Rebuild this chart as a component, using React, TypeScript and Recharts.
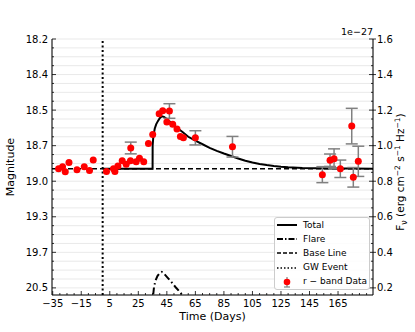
import React from 'react';
import { ComposedChart, Line, Scatter, ErrorBar, XAxis, YAxis, CartesianGrid, ReferenceLine, Legend, Label } from 'recharts';

const FONT = '"DejaVu Sans", Verdana, sans-serif';

// r-band photometry: days since GW trigger, flux (1e-27 erg cm^-2 s^-1 Hz^-1), 1-sigma error
const obsDays = [-30.9, -28.1, -26.2, -23.6, -18.0, -12.9, -9.2, -6.6,
  2.7, 7.6, 8.6, 10.7, 13.7, 16.5, 19.5, 19.7, 23.5, 25.8, 28.8, 32.1, 35.1,
  39.6, 42.1, 45.0, 46.8, 49.1, 52.1, 54.5, 56.6, 65.0, 91.0,
  154.0, 159.4, 162.2, 166.6, 174.6, 175.7, 179.2];
const obsFlux = [0.870, 0.881, 0.853, 0.905, 0.864, 0.881, 0.860, 0.920,
  0.854, 0.870, 0.854, 0.886, 0.915, 0.896, 0.915, 0.987, 0.909, 0.929, 0.909, 1.012, 1.063,
  1.180, 1.196, 1.133, 1.195, 1.121, 1.094, 1.052, 1.045, 1.044, 0.994,
  0.837, 0.918, 0.926, 0.870, 1.110, 0.822, 0.912];
const obsErr = [0.005, 0.005, 0.005, 0.005, 0.005, 0.005, 0.005, 0.005,
  0.005, 0.005, 0.005, 0.005, 0.005, 0.005, 0.005, 0.033, 0.005, 0.005, 0.005, 0.005, 0.005,
  0.005, 0.005, 0.005, 0.041, 0.005, 0.005, 0.005, 0.005, 0.040, 0.058,
  0.045, 0.035, 0.056, 0.049, 0.100, 0.055, 0.085];

// model curves
const totalDays = [0, 35.0, 35.05, 35.5, 36.5, 37.5, 38.7, 40, 41.5, 43, 45, 47.5, 50, 53, 56,
  60, 65, 70, 75, 80, 85, 90, 95, 100, 105, 110, 115, 120, 125, 130, 140, 150, 160, 175, 189.5];
const totalFlux = [0.87, 0.87, 1.0, 1.05, 1.095, 1.12, 1.138, 1.155, 1.165, 1.162, 1.15, 1.132, 1.115, 1.095, 1.077,
  1.05, 1.028, 1.008, 0.988, 0.971, 0.956, 0.942, 0.928, 0.915, 0.905, 0.897, 0.891, 0.886, 0.882, 0.879, 0.875, 0.873, 0.872, 0.871, 0.870];
const flareDays = [35.0, 35.3, 36, 37, 38.5, 40, 41.5, 43, 45, 48, 51, 54, 57, 60];
const flareFlux = [0.0, 0.15, 0.205, 0.24, 0.268, 0.283, 0.29, 0.28, 0.262, 0.235, 0.205, 0.178, 0.15, 0.125];
const baseDays = [-35.5, 189.5];
const baseFlux = [0.87, 0.87];
const gwDay = 0;

const xDomain = [-35.5, 189.5];
const xMajor = [-35, -15, 5, 25, 45, 65, 85, 105, 125, 145, 165];
const fluxMajor = [1.6, 1.4, 1.2, 1.0, 0.8, 0.6, 0.4, 0.2];
const fluxLabels = ['1.6', '1.4', '1.2', '1.0', '0.8', '0.6', '0.4', '0.2'];
const magLabels = ['18.2', '18.4', '18.5', '18.7', '19.0', '19.3', '19.7', '20.5'];

const xTicks: number[] = [];
for (let d = -35; d <= 185; d += 5) xTicks.push(d);
const yTicks: number[] = [];
for (let i = 4; i <= 32; i++) yTicks.push(Math.round(i * 5) / 100);

const obsData = obsDays.map((d, i) => ({ day: d, flux: obsFlux[i], err: obsErr[i] }));
// error bars smaller than the marker are hidden under it anyway
const errData = obsData.filter(p => p.err > 0.02);
const totalData = totalDays.map((d, i) => ({ day: d, flux: totalFlux[i] }));
const flareData = flareDays.map((d, i) => ({ day: d, flux: flareFlux[i] }));
const baseData = baseDays.map((d, i) => ({ day: d, flux: baseFlux[i] }));

const minus = (v: number) => (v < 0 ? '\u2212' + Math.abs(v) : String(v));
const majorIndex = (v: number) => fluxMajor.findIndex(f => Math.abs(f - v) < 1e-6);

const XTick = ({ x, y, payload }: any) => {
  const major = xMajor.includes(payload.value);
  return (
    <g>
      <line x1={x} x2={x} y1={y} y2={y - (major ? 4 : 2)} stroke="#000" strokeWidth={0.8} />
      {major && (
        <text x={x} y={y + 12} textAnchor="middle" fontSize={10} fontFamily={FONT} fill="#000">
          {minus(payload.value)}
        </text>
      )}
    </g>
  );
};

const MagTick = ({ x, y, payload }: any) => {
  const idx = majorIndex(payload.value);
  return (
    <g>
      <line x1={x} x2={x + (idx >= 0 ? 4 : 2)} y1={y} y2={y} stroke="#000" strokeWidth={0.8} />
      {idx >= 0 && (
        <text x={x - 4} y={y} dy="0.35em" textAnchor="end" fontSize={10} fontFamily={FONT} fill="#000">
          {magLabels[idx]}
        </text>
      )}
    </g>
  );
};

const FluxTick = ({ x, y, payload }: any) => {
  const idx = majorIndex(payload.value);
  return (
    <g>
      <line x1={x} x2={x - (idx >= 0 ? 4 : 2)} y1={y} y2={y} stroke="#000" strokeWidth={0.8} />
      {idx >= 0 && (
        <>
          <line x1={x} x2={x + 3} y1={y} y2={y} stroke="#000" strokeWidth={0.8} />
          <text x={x + 4} y={y} dy="0.35em" textAnchor="start" fontSize={10} fontFamily={FONT} fill="#000">
            {fluxLabels[idx]}
          </text>
        </>
      )}
    </g>
  );
};

const FluxTitle = ({ viewBox }: any) => {
  const cx = viewBox.x + 31;
  const cy = viewBox.y + viewBox.height / 2 + 5;
  return (
    <g>
      <text x={viewBox.x} y={viewBox.y - 4} textAnchor="end" fontSize={9.5} fontFamily={FONT} fill="#000">
        1e{'\u2212'}27
      </text>
      <text x={cx} y={cy} transform={`rotate(-90, ${cx}, ${cy})`} textAnchor="middle" fontSize={10.5} fontFamily={FONT} fill="#000">
        F<tspan dy={3} fontSize={8}>ν</tspan>
        <tspan dy={-3}> (erg cm</tspan>
        <tspan dy={-4} fontSize={7.5}>{'\u2212'}2</tspan>
        <tspan dy={4}> s</tspan>
        <tspan dy={-4} fontSize={7.5}>{'\u2212'}1</tspan>
        <tspan dy={4}> Hz</tspan>
        <tspan dy={-4} fontSize={7.5}>{'\u2212'}1</tspan>
        <tspan dy={4}>)</tspan>
      </text>
    </g>
  );
};

const legendItems = [
  { label: 'Total', dash: undefined, w: 2 },
  { label: 'Flare', dash: '6 2 1.5 2', w: 2 },
  { label: 'Base Line', dash: '4 2', w: 1.5 },
  { label: 'GW Event', dash: '1.5 2', w: 1.5 },
];

const renderLegend = () => (
  <div style={{
    border: '1px solid #cccccc', borderRadius: 3, background: 'rgba(255,255,255,0.85)',
    padding: '0 2px', fontFamily: FONT, fontSize: 9, color: '#000', lineHeight: 1, whiteSpace: 'nowrap',
  }}>
    {legendItems.map(it => (
      <div key={it.label} style={{ display: 'flex', alignItems: 'center', height: 14.2 }}>
        <svg width={20} height={10}>
          <line x1={0} x2={20} y1={5} y2={5} stroke="#000" strokeWidth={it.w} strokeDasharray={it.dash} />
        </svg>
        <span style={{ marginLeft: 6 }}>{it.label}</span>
      </div>
    ))}
    <div style={{ display: 'flex', alignItems: 'center', height: 14.2 }}>
      <svg width={20} height={12}>
        <line x1={10} x2={10} y1={1} y2={11} stroke="#808080" strokeWidth={1.2} />
        <line x1={7} x2={13} y1={11} y2={11} stroke="#808080" strokeWidth={1.2} />
        <circle cx={10} cy={6} r={3.3} fill="#ff0000" />
      </svg>
      <span style={{ marginLeft: 6 }}>r {'\u2212'} band Data</span>
    </div>
  </div>
);

export default function App() {
  return (
    <div style={{ position: 'absolute', left: 0, top: 0, background: '#fff' }}>
      <ComposedChart width={415} height={332} margin={{ top: 39, right: 0, bottom: 0, left: 0 }}>
        <CartesianGrid yAxisId="flux" vertical={false} stroke="#e3e3e3" strokeWidth={0.8} />
        <CartesianGrid xAxisId="top" yAxisId="flux" horizontal={false} stroke="#dcdcdc" strokeWidth={1} />
        <XAxis
          dataKey="day" type="number" domain={xDomain} allowDataOverflow ticks={xTicks} interval={0}
          height={37} tickSize={0} tickMargin={0} tickLine={false} tick={<XTick />}
          axisLine={{ stroke: '#000', strokeWidth: 1 }}
        >
          <Label value="Time (Days)" position="insideBottom" offset={12} fontSize={11} fontFamily={FONT} fill="#000" />
        </XAxis>
        <XAxis
          xAxisId="top" orientation="top" dataKey="day" type="number" domain={xDomain} allowDataOverflow
          ticks={xMajor} height={0} tick={false} tickLine={false} axisLine={{ stroke: '#000', strokeWidth: 1 }}
        />
        <YAxis
          yAxisId="mag" orientation="left" type="number" domain={[0.16, 1.6]} allowDataOverflow
          ticks={yTicks} interval={0} width={52} tickSize={0} tickMargin={0} tickLine={false} tick={<MagTick />}
          axisLine={{ stroke: '#000', strokeWidth: 1 }}
        >
          <Label value="Magnitude" angle={-90} position="insideLeft" offset={10} fontSize={11} fontFamily={FONT} fill="#000" style={{ textAnchor: 'middle' }} />
        </YAxis>
        <YAxis
          yAxisId="flux" orientation="right" type="number" domain={[0.16, 1.6]} allowDataOverflow
          ticks={yTicks} interval={0} width={42} tickSize={0} tickMargin={0} tickLine={false} tick={<FluxTick />}
          axisLine={{ stroke: '#000', strokeWidth: 1 }}
        >
          <Label content={<FluxTitle />} />
        </YAxis>
        <ReferenceLine x={gwDay} yAxisId="flux" stroke="#000" strokeWidth={2} strokeDasharray="2 2.5" />
        <Line data={baseData} dataKey="flux" yAxisId="flux" type="linear" stroke="#000" strokeWidth={1.5}
          strokeDasharray="5 3" dot={false} isAnimationActive={false} />
        <Line data={flareData} dataKey="flux" yAxisId="flux" type="linear" stroke="#000" strokeWidth={2}
          strokeDasharray="7 3 1.5 3" dot={false} isAnimationActive={false} />
        <Line data={totalData} dataKey="flux" yAxisId="flux" type="linear" stroke="#000" strokeWidth={2}
          dot={false} isAnimationActive={false} />
        <Scatter data={errData} dataKey="flux" yAxisId="flux" isAnimationActive={false} shape={() => <g />}>
          <ErrorBar dataKey="err" direction="y" width={6} stroke="#808080" strokeWidth={1.5} />
        </Scatter>
        <Scatter data={obsData} dataKey="flux" yAxisId="flux" isAnimationActive={false}
          shape={(p: any) => <circle cx={p.cx} cy={p.cy} r={3.5} fill="#ff0000" />} />
        <Legend layout="vertical" align="center" verticalAlign="middle" content={renderLegend}
          wrapperStyle={{ position: 'absolute', left: 274, top: 217, width: 96 }} />
      </ComposedChart>
    </div>
  );
}
